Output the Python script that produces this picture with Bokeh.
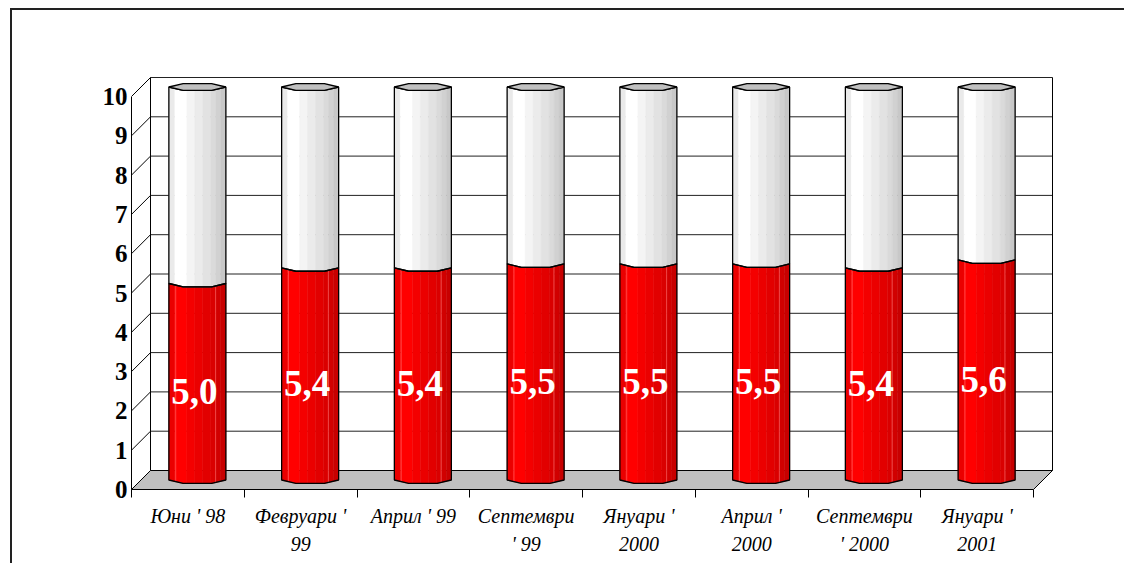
import numpy as np
from bokeh.plotting import figure
from bokeh.models import Range1d, FixedTicker, LinearAxis, Label, InlineStyleSheet
from bokeh.embed import file_html
from bokeh.resources import INLINE
from bokeh.core.properties import value

# ---------------- data ----------------
categories = ["Юни ' 98", "Февруари '\n99", "Април ' 99", "Септември\n' 99",
              "Януари '\n2000", "Април '\n2000", "Септември\n' 2000", "Януари '\n2001"]
values = [5.0, 5.4, 5.4, 5.5, 5.5, 5.5, 5.4, 5.6]
scale_max = 10
y_ticks = list(range(0, 11))

# ---------------- geometry / style ----------------
W, H = 1124, 563
ML, MR, MT, MB = 131, 64, 40, 74
PX_X, PX_Y = 112.75, 39.3          # pixels per category / per unit
DEPTH_PX, RADIUS_PX, CAP_PX = 19, 28.5, 4
fw, fh = W - ML - MR, H - MT - MB
n = len(categories)
dxu, dyu = DEPTH_PX / PX_X, DEPTH_PX / PX_Y
r, e = RADIUS_PX / PX_X, CAP_PX / PX_Y
FONT = "Liberation Serif"

p = figure(width=W, height=H, output_backend="svg", toolbar_location=None,
           x_range=Range1d(0.5, 0.5 + fw / PX_X), y_range=Range1d(0, fh / PX_Y),
           x_axis_type=None, y_axis_type=None,
           min_border_left=ML, min_border_right=MR, min_border_top=MT, min_border_bottom=MB)
p.outline_line_color = None
p.background_fill_color = "white"
p.border_fill_color = "white"

# outer frame: only its top and left edges fall inside the picture
p.stylesheets = [InlineStyleSheet(css=(
    ":host::after { content: ''; position: absolute; left: 10px; top: 8px; right: 0; bottom: 0;"
    " border-top: 2px solid #222222; border-left: 2px solid #222222; pointer-events: none; }"))]

x0, x1 = 0.5, n + 0.5
# back wall gridlines
p.segment(x0=[x0 + dxu] * len(y_ticks), x1=[x1 + dxu] * len(y_ticks),
          y0=[v + dyu for v in y_ticks], y1=[v + dyu for v in y_ticks],
          line_color="#222222", line_width=1)
# side wall diagonals
p.segment(x0=[x0] * len(y_ticks), x1=[x0 + dxu] * len(y_ticks),
          y0=y_ticks, y1=[v + dyu for v in y_ticks], line_color="black", line_width=1)
# back wall verticals
p.segment(x0=[x0 + dxu, x1 + dxu], x1=[x0 + dxu, x1 + dxu],
          y0=[dyu, dyu], y1=[scale_max + dyu, scale_max + dyu], line_color="black", line_width=1)
# floor
p.patch([x0, x1, x1 + dxu, x0 + dxu], [0, 0, dyu, dyu],
        fill_color="#c0c0c0", line_color="black", line_width=1)

# ---------------- cylinders ----------------
arc_t = np.radians([0, 60, 120, 180])
cap_t = np.radians([0, 60, 120, 180, 240, 300])
fr = [0, 0.105, 0.316, 0.456, 0.596, 0.737, 0.825, 0.912, 1.0]
shade = [0.92, 1.0, 0.96, 0.925, 0.89, 0.855, 0.82, 0.785]


def arc_xy(cx, h):
    return cx - r * np.cos(arc_t), h - e * np.sin(arc_t)


def band(cx, xl, xr, lo, hi):
    ax, ay_hi = arc_xy(cx, hi)
    _, ay_lo = arc_xy(cx, lo)
    xs = [xl] + [x for x in ax if xl < x < xr] + [xr]
    top = list(np.interp(xs, ax, ay_hi))
    bot = list(np.interp(xs, ax, ay_lo))
    return xs + xs[::-1], top + bot[::-1]


sx, sy, sc = [], [], []
ox, oy = [], []
hx0, hx1, hy0, hy1 = [], [], [], []
capx, capy = [], []
for i, v in enumerate(values):
    cx = i + 1 + dxu / 2
    b = dyu / 2
    parts = [(b, b + v, "red"), (b + v, b + scale_max, "white")]
    for lo, hi, kind in parts:
        for k in range(len(shade)):
            xl = cx - r + 2 * r * fr[k]
            xr = cx - r + 2 * r * fr[k + 1]
            xs, ys = band(cx, xl, xr, lo, hi)
            sx.append(xs)
            sy.append(ys)
            f = shade[k]
            if kind == "red":
                sc.append("#%02x0000" % int(255 * f))
            else:
                sc.append("#%02x%02x%02x" % ((int(255 * f),) * 3))
        xs, ys = band(cx, cx - r, cx + r, lo, hi)
        ox.append(xs)
        oy.append(ys)
    for f in (0.12, 0.82):
        xx = cx - r + 2 * r * f
        ax, ay = arc_xy(cx, b)
        _, ay2 = arc_xy(cx, b + v)
        hx0.append(xx); hx1.append(xx)
        hy0.append(float(np.interp(xx, ax, ay)))
        hy1.append(float(np.interp(xx, ax, ay2)))
    capx.append(list(cx - r * np.cos(cap_t)))
    capy.append(list(b + scale_max - e * np.sin(cap_t)))

p.patches(sx, sy, fill_color=sc, line_color=sc, line_width=0.5)
p.segment(x0=hx0, x1=hx1, y0=hy0, y1=hy1, line_color="#ff7070", line_width=1, line_alpha=0.6)
p.patches(ox, oy, fill_color=None, line_color="black", line_width=1.3)
p.patches(capx, capy, fill_color="#c0c0c0", line_color="black", line_width=1.3)

# value labels
p.text(x=[i + 1 + dxu / 2 for i in range(n)], y=[v / 2 for v in values],
       text=[("%.1f" % v).replace(".", ",") for v in values],
       text_color="white", text_font=value(FONT), text_font_style="bold",
       text_font_size="37px", text_align="center", text_baseline="middle", x_offset=-3)

# ---------------- axes ----------------
xaxis = LinearAxis(ticker=FixedTicker(ticks=list(range(1, n + 1)),
                                      minor_ticks=[k + 0.5 for k in range(n + 1)]),
                   major_label_overrides={i + 1: c for i, c in enumerate(categories)},
                   bounds=(x0, x1), axis_line_color="black", axis_line_width=1,
                   major_tick_out=0, major_tick_in=0, minor_tick_out=8, minor_tick_in=0,
                   minor_tick_line_color="black",
                   major_label_standoff=7, major_label_text_font=FONT,
                   major_label_text_font_style="italic", major_label_text_font_size="20px",
                   major_label_text_color="black", major_label_text_line_height=1.3,
                   major_label_orientation="horizontal")
p.add_layout(xaxis, "below")

yaxis = LinearAxis(ticker=FixedTicker(ticks=y_ticks), bounds=(0, scale_max),
                   axis_line_color="black", axis_line_width=1,
                   major_tick_out=0, major_tick_in=0, minor_tick_out=0, minor_tick_in=0,
                   major_label_standoff=4, major_label_text_font=FONT,
                   major_label_text_font_style="bold", major_label_text_font_size="25px",
                   major_label_text_color="black")
p.add_layout(yaxis, "left")

open("out.html", "w").write(file_html(p, INLINE))
